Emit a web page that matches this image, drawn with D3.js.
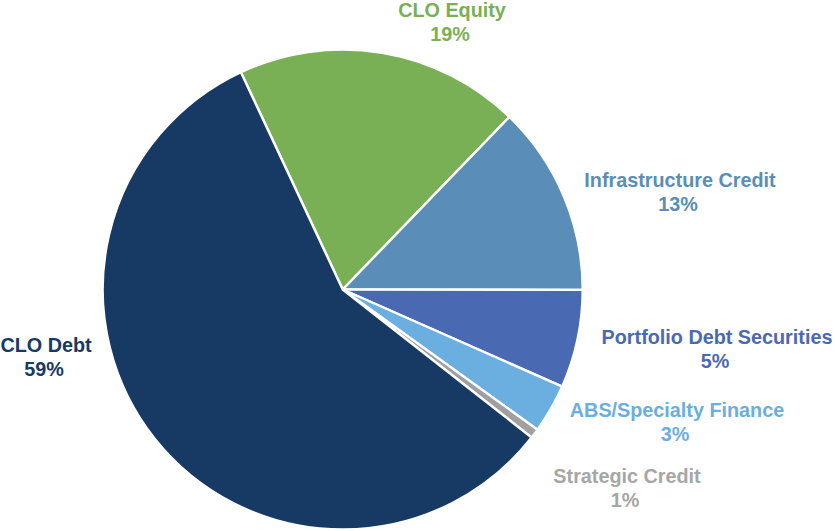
<!DOCTYPE html>
<html>
<head>
<meta charset="utf-8">
<script src="https://cdn.jsdelivr.net/npm/d3@7"></script>
<style>
    html, body { margin: 0; padding: 0; background: #ffffff; }
    #container { width: 835px; height: 531px; }
</style>
</head>
<body>
<div id="container"></div>
<script>
// slice data, clockwise from the CLO Equity edge
const categories = ['CLO Equity', 'Infrastructure Credit', 'Portfolio Debt Securities',
    'ABS/Specialty Finance', 'Strategic Credit', 'CLO Debt'];
const shares = [19.2, 12.8, 6.6, 3.3, 0.65, 57.45];
const pctLabels = ['19%', '13%', '5%', '3%', '1%', '59%'];

const colors = ['#79b055', '#5a8db8', '#4a69b3', '#6baee0', '#a0a0a0', '#173a64'];
const textColors = ['#79b055', '#5a8db8', '#4a69b3', '#6baee0', '#a6a6a6', '#173a64'];
// label anchor (centre x, baseline of first line)
const labelPos = [[452, 17], [680, 187], [717, 344], [677, 417], [627, 483], [46, 352]];

const width = 835, height = 531;
const cx = 342.7, cy = 289.5, radius = 240;

const svg = d3.select('#container')
    .append('svg')
    .attr('width', width)
    .attr('height', height);

const pie = d3.pie()
    .sort(null)
    .value(d => d)
    .startAngle(-25.1 * Math.PI / 180)
    .endAngle(-25.1 * Math.PI / 180 + 2 * Math.PI);

const arc = d3.arc()
    .innerRadius(0)
    .outerRadius(radius);

const group = svg.append('g')
    .attr('transform', `translate(${cx},${cy})`);

group.selectAll('path')
    .data(pie(shares))
    .join('path')
    .attr('d', arc)
    .attr('fill', (d, i) => colors[i])
    .attr('stroke', '#ffffff')
    .attr('stroke-width', 2.4)
    .attr('stroke-linejoin', 'round');

// labels
categories.forEach((name, i) => {
    const [x, y] = labelPos[i];
    const t = svg.append('text')
        .attr('text-anchor', 'middle')
        .style('font-family', '\'Liberation Sans\', Arial, sans-serif')
        .style('font-weight', 700)
        .style('font-size', '19.8px')
        .style('fill', textColors[i]);
    t.append('tspan')
        .attr('x', x)
        .attr('y', y)
        .text(name);
    t.append('tspan')
        .attr('x', x - 2)
        .attr('y', y + 24)
        .text(pctLabels[i]);
});
</script>
</body>
</html>
